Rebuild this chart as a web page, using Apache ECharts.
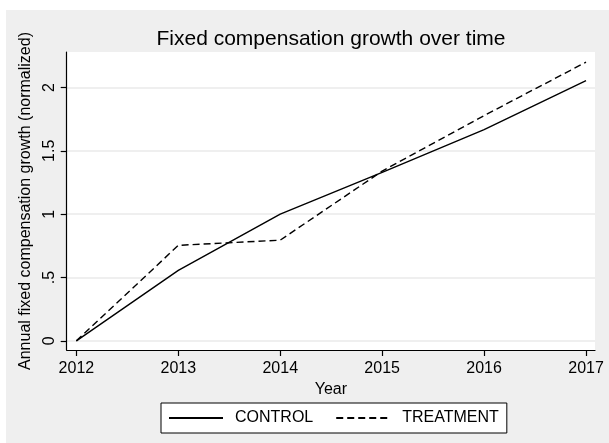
<!DOCTYPE html>
<html>
<head>
<meta charset="utf-8">
<script src="https://cdn.jsdelivr.net/npm/echarts@6/dist/echarts.min.js"></script>
<style>
html,body{margin:0;padding:0;background:#fff;}
#chart{width:609px;height:443px;}
</style>
</head>
<body>
<div id="chart"></div>
<script>
const years = [2012, 2013, 2014, 2015, 2016, 2017];
const controlValues = [0, 0.557, 1.0, 1.33, 1.667, 2.055];
const treatmentValues = [0, 0.754, 0.795, 1.34, 1.778, 2.2];
const xTickValues = [2012, 2013, 2014, 2015, 2016, 2017];
const yTickValues = [0, 0.5, 1, 1.5, 2];
const yTickLabels = ['0', '.5', '1', '1.5', '2'];
const seriesNames = ['CONTROL', 'TREATMENT'];

const FONT = 'Liberation Sans, Arial, sans-serif';
const chart = echarts.init(document.getElementById('chart'), null, {renderer: 'canvas'});

function pairs(vals) { return years.map((y, i) => [y, vals[i]]); }

chart.setOption({
  animation: false,
  backgroundColor: '#ffffff',
  graphic: [{
    type: 'rect', left: 6, top: 10, z: -10,
    shape: {width: 603, height: 433},
    style: {fill: '#efefef'}
  }],
  title: {
    text: 'Fixed compensation growth over time',
    left: 331, top: 29, textAlign: 'center', padding: 0,
    textStyle: {fontFamily: FONT, fontSize: 21, fontWeight: 'normal', color: '#000'}
  },
  grid: {
    left: 66.7, right: 14, top: 52, bottom: 93,
    show: true, backgroundColor: '#ffffff', borderWidth: 0,
    containLabel: false
  },
  legend: {
    data: seriesNames,
    left: 161, top: 403,
    padding: [7, 8, 7, 7],
    itemWidth: 54, itemHeight: 14, itemGap: 22,
    backgroundColor: '#ffffff',
    borderColor: '#000', borderWidth: 1, borderRadius: 0,
    itemStyle: {opacity: 0, borderWidth: 0},
    textStyle: {fontFamily: FONT, fontSize: 16, color: '#000', padding: [0, 0, 0, 7]}
  },
  xAxis: {
    type: 'value',
    min: 2011.905, max: 2017.088,
    name: 'Year', nameLocation: 'middle', nameGap: 26,
    nameTextStyle: {fontFamily: FONT, fontSize: 16, color: '#000'},
    axisLine: {show: true, onZero: false, lineStyle: {color: '#000', width: 1.2}},
    axisTick: {show: true, length: 6, customValues: xTickValues, lineStyle: {color: '#000', width: 1.2}},
    axisLabel: {customValues: xTickValues, margin: 11, fontFamily: FONT, fontSize: 16, color: '#000',
      formatter: v => String(Math.round(v))},
    splitLine: {show: false}
  },
  yAxis: {
    type: 'value',
    min: -0.072, max: 2.28,
    name: 'Annual fixed compensation growth (normalized)',
    nameLocation: 'middle', nameGap: 23, nameRotate: 90,
    nameTextStyle: {fontFamily: FONT, fontSize: 16, color: '#000'},
    axisLine: {show: true, onZero: false, lineStyle: {color: '#000', width: 1.2}},
    axisTick: {show: true, length: 6, customValues: yTickValues, lineStyle: {color: '#000', width: 1.2}},
    axisLabel: {customValues: yTickValues, rotate: 90, margin: 9, fontFamily: FONT, fontSize: 16, color: '#000',
      formatter: v => yTickLabels[yTickValues.findIndex(t => Math.abs(t - v) < 1e-9)] ?? ''},
    splitLine: {show: true, lineStyle: {color: '#eaeaea', width: 1.5}}
  },
  series: [
    {
      name: seriesNames[0], type: 'line', data: pairs(controlValues),
      symbol: 'none', showSymbol: false,
      lineStyle: {color: '#000', width: 1.4, type: 'solid'},
      itemStyle: {color: '#000'}
    },
    {
      name: seriesNames[1], type: 'line', data: pairs(treatmentValues),
      symbol: 'none', showSymbol: false,
      lineStyle: {color: '#000', width: 1.4, type: [7, 4]},
      itemStyle: {color: '#000'}
    }
  ]
});
</script>
</body>
</html>
